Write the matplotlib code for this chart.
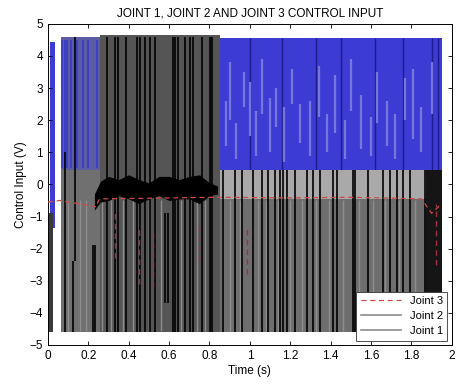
import numpy as np
import matplotlib.pyplot as plt
from matplotlib.lines import Line2D

plt.rcParams['font.family'] = ['Liberation Sans', 'DejaVu Sans']

# chattering signals, read as the band each one covers in a time segment (s, V)
j1_start = [0.01, 0.065, 0.85]
j1_end = [0.035, 0.85, 1.95]
j1_low = [-1.35, 0.45, 0.42]
j1_high = [4.45, 4.6, 4.55]

j2_start = [0.005, 0.065, 0.065, 0.26, 0.85, 0.85, 1.87]
j2_end = [0.025, 0.26, 0.26, 0.85, 1.95, 1.95, 1.95]
j2_low = [-4.6, -4.6, 0.45, -4.6, -4.6, -0.45, -4.6]
j2_high = [-0.9, 0.45, 4.6, 4.65, -0.45, 0.45, 0.45]

# small amplitude chatter of joint 2 around zero
blob_t = [0.23, 0.26, 0.30, 0.35, 0.40, 0.45, 0.50, 0.55, 0.60, 0.65, 0.70, 0.75, 0.80, 0.84]
blob_high = [-0.3, 0.1, 0.25, 0.15, 0.3, 0.15, 0.05, 0.25, 0.25, 0.15, 0.25, 0.3, 0.05, -0.05]
blob_low = [-0.8, -0.55, -0.5, -0.35, -0.45, -0.6, -0.45, -0.35, -0.5, -0.45, -0.45, -0.6, -0.35, -0.3]

# darker single switching lines of joint 2
dark_t = [0.084, 0.124, 0.134, 0.223, 0.233, 0.292, 0.332, 0.347, 0.386, 0.441, 0.455,
          0.48, 0.505, 0.53, 0.579, 0.594, 0.619, 0.629, 0.644, 0.678, 0.703, 0.718,
          0.762, 0.802, 0.812, 0.866, 0.926, 0.96, 1.015, 1.059, 1.089, 1.124, 1.149,
          1.163, 1.183, 1.223, 1.282, 1.312, 1.347, 1.411, 1.431, 1.51, 1.52, 1.584,
          1.658, 1.693, 1.728, 1.757, 1.792, 1.866]
dark_low = [-4.6, -4.6, -2.4, -4.6, -4.6, -4.6, -4.6, -4.6, -4.6, -4.6, -4.6,
            -4.6, -4.6, -4.6, -3.7, -3.7, -4.6, -4.6, -4.6, -4.6, -4.6, -4.6,
            -4.6, -4.6, -4.6, -4.6, -4.6, -4.6, -4.6, -4.6, -4.6, -4.6, -4.6,
            -4.6, -4.6, -4.6, -4.6, -4.6, -4.6, -4.6, -4.6, -4.6, -4.6, -4.6,
            -4.6, -4.6, -4.6, -4.6, -4.6, -4.6]
dark_high = [1.0, -2.4, 4.6, -1.9, -1.9, 4.6, 4.6, 4.6, 4.6, 4.6, 4.6,
             4.6, 4.6, 4.6, -0.9, -0.9, 4.6, 4.6, 4.6, 4.6, 4.6, 4.6,
             4.6, 4.6, 4.6, 0.45, 0.45, 0.45, 0.45, 0.45, 0.45, 0.45, 0.45,
             0.45, 0.45, 0.45, 0.45, 0.45, 0.45, 0.45, 0.45, 0.45, 0.45, 0.45,
             0.45, 0.45, 0.45, 0.45, 0.45, 0.45]

# lighter gaps between the switching lines of joint 2
gap_t = [0.1, 0.16, 0.19, 0.27, 0.31, 0.37, 0.42, 0.5, 0.56, 0.66, 0.74, 0.78,
         0.9, 0.95, 1.04, 1.08, 1.14, 1.2, 1.26, 1.33, 1.39, 1.46, 1.54, 1.61,
         1.67, 1.74, 1.82]

# joint 1 switching lines seen between the joint 2 lines, and light spots in its band
j1_line_t = [0.07, 0.085, 0.095, 0.115, 0.145, 0.175, 0.2, 0.245]
j1_navy_t = [1.0, 1.16, 1.33, 1.45, 1.62, 1.76, 1.9, 1.93]
spot_t = [0.88, 0.9, 0.93, 0.97, 1.0, 1.03, 1.06, 1.1, 1.13, 1.17, 1.21, 1.25, 1.3,
          1.34, 1.38, 1.42, 1.47, 1.5, 1.55, 1.6, 1.63, 1.68, 1.72, 1.77, 1.81, 1.85, 1.9]
spot_low = [1.2, 2.0, 0.8, 2.4, 1.5, 0.9, 2.2, 1.0, 1.8, 0.7, 2.5, 1.3, 0.9,
            2.1, 1.0, 1.6, 0.8, 2.3, 1.1, 0.9, 1.9, 1.2, 0.8, 2.0, 1.4, 1.0, 2.2]
spot_high = [2.6, 3.8, 1.9, 3.5, 3.2, 2.3, 3.9, 2.7, 3.0, 2.4, 3.6, 2.5, 2.6,
             3.7, 2.2, 3.4, 2.0, 3.9, 2.8, 2.1, 3.5, 2.6, 2.2, 3.3, 3.6, 2.4, 3.8]

# joint 3
j3_t = [0.0, 0.06, 0.24, 0.25, 0.26, 0.85, 1.2, 1.5, 1.85, 1.9, 1.95]
j3_u = [-0.55, -0.5, -0.7, -0.5, -0.45, -0.4, -0.42, -0.4, -0.45, -0.9, -0.6]
j3_dip_t = [0.33, 0.45, 0.52, 0.75, 0.985, 1.92]
j3_dip_low = [-2.3, -3.1, -3.2, -2.4, -2.8, -2.5]
j3_dip_high = [-0.9, -1.4, -1.4, -1.2, -1.3, -0.6]

j2_shade = ['#3a3a3a', '#707070', '#5c5ca4', '#555555', '#6e6e6e', '#a9a9a9', '#151515']

fig = plt.figure(figsize=(4.61, 3.85), dpi=100)
ax = fig.add_axes([0.104, 0.104, 0.876, 0.834])

for t0, t1, lo, hi in zip(j1_start, j1_end, j1_low, j1_high):
    ax.fill_between([t0, t1], lo, hi, color='#3c3cd4', lw=0, zorder=1)

for i, (t0, t1, lo, hi) in enumerate(zip(j2_start, j2_end, j2_low, j2_high)):
    ax.fill_between([t0, t1], lo, hi, color=j2_shade[i], lw=0, zorder=2)

ax.vlines(gap_t, -4.55, -0.5, color='#8e8e8e', lw=1.0, zorder=2.5)
ax.vlines(j1_line_t, 0.5, 4.5, color='#3a3ac8', lw=1.2, zorder=2.5)
ax.vlines(j1_navy_t, 0.45, 4.55, color='#1c1c8c', lw=1.0, zorder=1.5)
ax.vlines(spot_t, spot_low, spot_high, color='#7676dc', lw=1.6, zorder=1.5)

ax.vlines(dark_t, dark_low, dark_high, color='black', lw=1.2, zorder=3)
ax.fill_between(blob_t, blob_low, blob_high, color='black', lw=0, zorder=3)

ax.plot(j3_t, j3_u, color='#d04848', lw=0.9, dashes=(4, 3), zorder=4)
ax.vlines(j3_dip_t, j3_dip_low, j3_dip_high, color='#a03040', lw=1.0,
          linestyles=(0, (4, 3)), zorder=4)

ax.set_xlim(0, 2)
ax.set_ylim(-5, 5)
ax.set_xticks(np.arange(0, 2.01, 0.2))
ax.set_xticklabels(['0', '0.2', '0.4', '0.6', '0.8', '1', '1.2', '1.4', '1.6', '1.8', '2'])
ax.set_yticks(range(-5, 6))
ax.tick_params(direction='in', top=True, right=True, labelsize=8.5, length=3, width=0.6)
for s in ax.spines.values():
    s.set_linewidth(0.7)

ax.set_title('JOINT 1, JOINT 2 AND JOINT 3 CONTROL INPUT', fontsize=8.5, pad=5)
ax.set_xlabel('Time (s)', fontsize=8.5, labelpad=2)
ax.set_ylabel('Control Input (V)', fontsize=8.5, labelpad=2)

handles = [Line2D([], [], color='#d04848', lw=0.9, dashes=(4, 3)),
           Line2D([], [], color='#8c8c8c', lw=1.2),
           Line2D([], [], color='#8c8c8c', lw=1.2)]
leg = ax.legend(handles, ['Joint 3', 'Joint 2', 'Joint 1'], loc='lower right',
                fontsize=8, fancybox=False, framealpha=1, edgecolor='#333333',
                handlelength=3.6, borderaxespad=0.4, labelspacing=0.45)
leg.get_frame().set_linewidth(0.6)
leg.set_zorder(10)

fig.savefig('out.png', dpi=100)
